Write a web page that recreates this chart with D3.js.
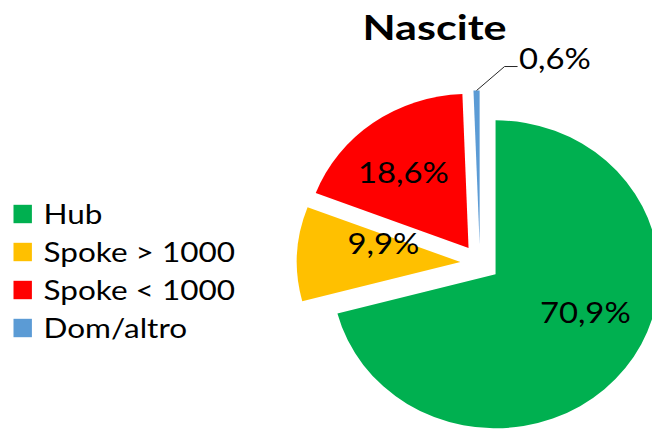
<!DOCTYPE html>
<html>
<head>
<meta charset="utf-8">
<script src="https://cdn.jsdelivr.net/npm/d3@7"></script>
<style>
  html, body { margin: 0; padding: 0; background: #fff; }
  svg { display: block; }
</style>
</head>
<body>
<div id="chart"></div>
<script>
// --- Data ---
const categories = ["Hub", "Spoke > 1000", "Spoke < 1000", "Dom/altro"];
const shares = [70.9, 9.9, 18.6, 0.6];
const colors = ["#00B050", "#FFC000", "#FF0000", "#5B9BD5"];
const title = "Nascite";

// --- Layout ---
const W = 652, H = 429;
const cx = 480, cy = 263;        // pie centre
const R = 154;                   // radius (vertical)
const SX = 1.062;                // picture is slightly stretched horizontally
const explode = 18.5;            // every slice pulled out a bit
const font = "Lato, 'Open Sans', sans-serif";

// Lato runs narrower than the original Calibri, so widen the text a little
const labelSX = SX * 1.065;
const legendSX = SX * 1.12;
const titleSX = SX * 1.16;

// label nudges from the plain centroid (Excel "best fit" placement)
const nudge = [[12, -18], [21, -14], [-8, 0], [0, 0]];

const itFmt = d3.formatLocale({ decimal: ",", thousands: ".", grouping: [3], currency: ["", "€"] }).format(".1f");

const svg = d3.select("#chart")
  .append("svg")
  .attr("width", W)
  .attr("height", H)
  .style("font-family", font);

// --- Pie ---
const arcs = d3.pie().sort(null).value(i => shares[i])(d3.range(shares.length));
const arc = d3.arc().innerRadius(0).outerRadius(R);
const mid = d => (d.startAngle + d.endAngle) / 2;
const along = (d, r) => [Math.sin(mid(d)) * r, -Math.cos(mid(d)) * r];
const toScreen = p => [cx + SX * p[0], cy + p[1]];

svg.append("g")
  .attr("transform", `translate(${cx},${cy}) scale(${SX},1)`)
  .selectAll("path")
  .data(arcs)
  .join("path")
  .attr("transform", d => `translate(${along(d, explode)})`)
  .attr("d", arc)
  .attr("fill", d => colors[d.data]);

// --- Data labels inside the big slices ---
const labelArc = d3.arc().innerRadius(R * 0.6).outerRadius(R * 0.6);
const inside = arcs.filter(d => shares[d.data] >= 5);

svg.selectAll(".pct")
  .data(inside)
  .join("text")
  .attr("class", "pct")
  .attr("transform", d => {
    const c = labelArc.centroid(d), o = along(d, explode);
    const p = toScreen([c[0] + o[0], c[1] + o[1]]);
    const n = nudge[d.data];
    return `translate(${p[0] + n[0]},${p[1] + n[1]}) scale(${labelSX},1)`;
  })
  .attr("text-anchor", "middle")
  .attr("dy", "0.36em")
  .style("font-size", "29px")
  .style("fill", "#000")
  .text(d => itFmt(shares[d.data]) + "%");

// --- Small slice: label outside with leader line ---
arcs.filter(d => shares[d.data] < 5).forEach(d => {
  const tip = toScreen(along(d, explode + R));
  svg.append("polyline")
    .attr("points", [tip, [tip[0] + 28, tip[1] - 24], [tip[0] + 41, tip[1] - 24]].map(p => p.join(",")).join(" "))
    .attr("fill", "none")
    .attr("stroke", "#262626")
    .attr("stroke-width", 1);
  svg.append("text")
    .attr("transform", `translate(${tip[0] + 42.5},${tip[1] - 22}) scale(${labelSX},1)`)
    .style("font-size", "29px")
    .style("fill", "#000")
    .text(itFmt(shares[d.data]) + "%");
});

// --- Title ---
svg.append("text")
  .attr("transform", `translate(434.5,39.5) scale(${titleSX},1)`)
  .attr("text-anchor", "middle")
  .style("font-size", "35px")
  .style("font-weight", "bold")
  .style("fill", "#000")
  .text(title);

// --- Legend ---
const legendY = d3.scalePoint()
  .domain(categories)
  .range([214, 328]);

const legend = svg.selectAll(".legend")
  .data(categories)
  .join("g")
  .attr("class", "legend")
  .attr("transform", d => `translate(0,${legendY(d)})`);

legend.append("rect")
  .attr("x", 13.5)
  .attr("y", -9.2)
  .attr("width", 18.4)
  .attr("height", 18.4)
  .attr("fill", (d, i) => colors[i]);

legend.append("text")
  .attr("transform", `translate(43.5,9.5) scale(${legendSX},1)`)
  .style("font-size", "26.5px")
  .style("fill", "#000")
  .text(d => d);
</script>
</body>
</html>
